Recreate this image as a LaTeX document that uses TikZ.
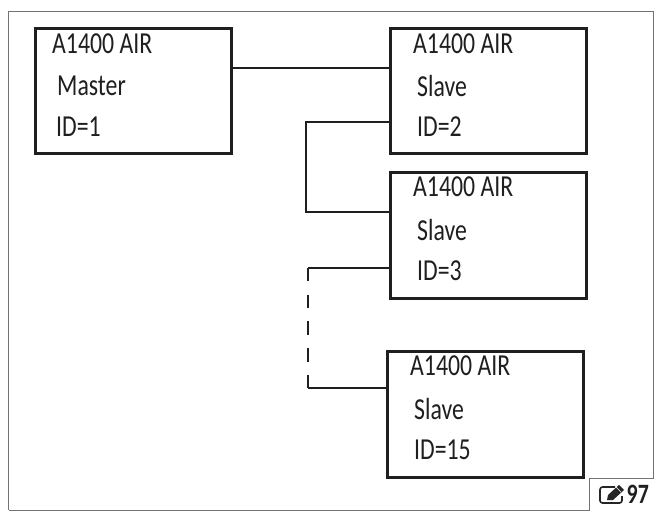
\documentclass[tikz,border=0pt]{standalone}
\usepackage{fontspec}
\setmainfont[FakeStretch=0.78]{Carlito}
\usetikzlibrary{calc}
\tikzset{
  px/.style={x=1pt,y=-1pt},
  unitbox/.style={draw=black!88,line width=3pt,minimum width=196pt,minimum height=124pt,inner sep=0pt,outer sep=0pt,fill=white},
  label/.style={anchor=base west,inner sep=0pt,font=\fontsize{30.5}{30.5}\selectfont,text=black!88},
  wire/.style={draw=black!88,line width=2.2pt},
  frame/.style={draw=black!55,line width=1pt},
}
\begin{document}
\begin{tikzpicture}[px]
\useasboundingbox (0,0) rectangle (655,511);
\fill[white] (0,0) rectangle (655,511);
% outer frame
\coordinate (fa) at (8.5,510);
\coordinate (fb) at (8.5,11.5);
\coordinate (fc) at (653.5,11.5);
\coordinate (fd) at (653.5,478.5);
\coordinate (fe) at (589,478.5);
\coordinate (ff) at (589,510);
\draw[frame] (fa) -- (fb) -- (fc) -- (fd) -- (fe) -- (ff) -- (fa);
% boxes
\node[unitbox] (b1) at (133,91) {};
\node[unitbox] (b2) at (488.5,91) {};
\node[unitbox,minimum height=126pt] (b3) at (488.5,235) {};
\node[unitbox,minimum height=126pt] (b4) at (485,414) {};
% text
\node[label] (t1a) at (52,53) {A1400 AIR};
\node[label] (t1b) at (57,95) {Master};
\node[label] (t1c) at (56,136) {ID=1};
\node[label] (t2a) at (413,53) {A1400 AIR};
\node[label] (t2b) at (417,96) {Slave};
\node[label] (t2c) at (417,136) {ID=2};
\node[label] (t3a) at (413,196) {A1400 AIR};
\node[label] (t3b) at (417,240) {Slave};
\node[label] (t3c) at (417,280) {ID=3};
\node[label] (t4a) at (410,375) {A1400 AIR};
\node[label] (t4b) at (414,419) {Slave};
\node[label] (t4c) at (414,459) {ID=15};
% connectors
\coordinate (c1) at (b1.east |- 0,68);
\coordinate (c2) at (b2.west |- 0,68);
\coordinate (c3) at (b2.west |- 0,122);
\coordinate (c4) at (b3.west |- 0,212);
\coordinate (c5) at (b3.west |- 0,268);
\coordinate (c6) at (b4.west |- 0,388);
\coordinate (k1) at (306,122);
\coordinate (k2) at (306,212);
\coordinate (k3) at (308,268);
\coordinate (k4) at (308,388);
\draw[wire] (c1) -- (c2);
\draw[wire] (c3) -- (k1) -- (k2) -- (c4);
\draw[wire] (c5) -- (k3);
\draw[wire,dash pattern=on 13.4pt off 13.3pt] (k3) -- (k4);
\draw[wire] (k4) -- (c6);
% tag
\begin{scope}[shift={(600,487)}]
  \draw[black!85,line width=1.6pt,rounded corners=2.5pt] (15,0) -- (0,0) -- (0,16) -- (22,16) -- (22,9);
  \fill[black!85] (7,13) -- (8,8) -- (19,-2) -- (24,3) -- (13,13) -- cycle;
  \draw[white,line width=0.7pt] (16,0) -- (21,5);
\end{scope}
\node[anchor=base west,inner sep=0pt,font=\fontsize{28}{28}\selectfont\bfseries,text=black!88] (tag) at (626.5,503.5) {97};
\end{tikzpicture}
\end{document}
